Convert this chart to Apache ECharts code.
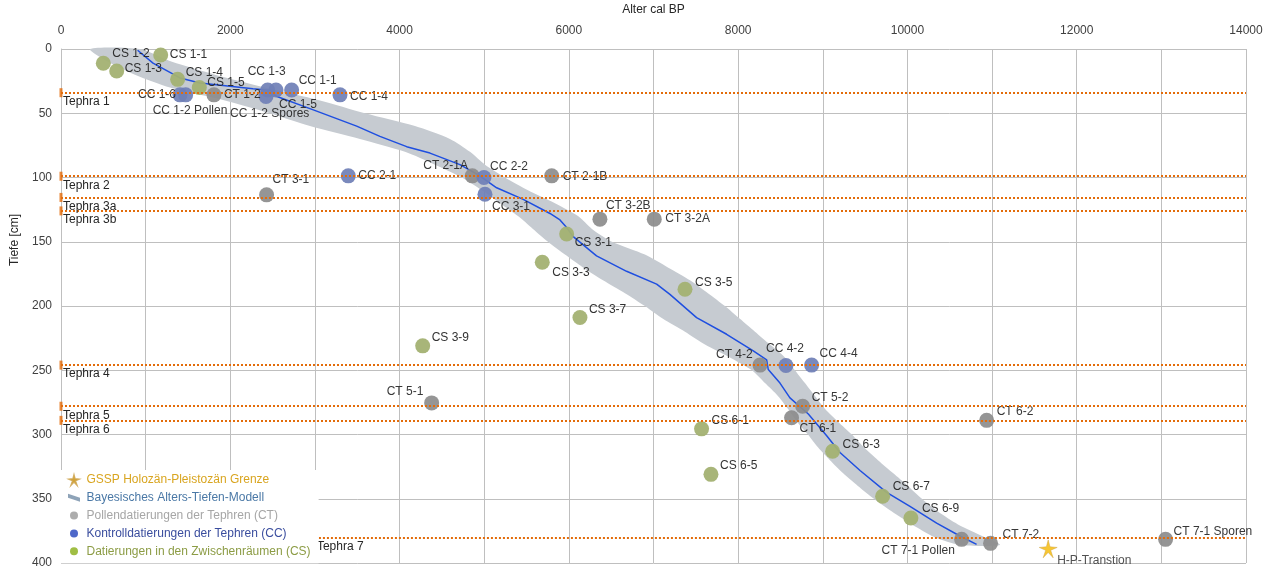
<!DOCTYPE html>
<html>
<head>
<meta charset="utf-8">
<script src="https://cdn.jsdelivr.net/npm/echarts@6/dist/echarts.min.js"></script>
<style>html,body{margin:0;padding:0;background:#fff}#c{width:1274px;height:569px}</style>
</head>
<body>
<div id="c"></div>
<script>
// ---------- data ----------
var xTicks = [0, 2000, 4000, 6000, 8000, 10000, 12000, 14000];
var yTicks = [0, 50, 100, 150, 200, 250, 300, 350, 400];

var tephraNames = ['Tephra 1', 'Tephra 2', 'Tephra 3a', 'Tephra 3b', 'Tephra 4', 'Tephra 5', 'Tephra 6', 'Tephra 7'];
var tephraDepth = [34, 99, 115.5, 126, 246, 278, 289, 380];
var tephraStartAge = [0, 0, 0, 0, 0, 0, 0, 3000];

var ctNames = ['CT 1-2', 'CT 3-1', 'CT 2-1A', 'CT 2-1B', 'CT 3-2B', 'CT 3-2A', 'CT 5-1', 'CT 4-2', 'CT 5-2', 'CT 6-1', 'CT 6-2', 'CT 7-1 Pollen', 'CT 7-2', 'CT 7-1 Sporen'];
var ctAge = [1807, 2429, 4859, 5797, 6367, 7009, 4379, 8258, 8762, 8631, 10936, 10640, 10982, 13050];
var ctDepth = [35.7, 113.5, 98.7, 98.7, 132.4, 132.4, 275.4, 246, 278, 287, 289, 381.6, 384.7, 381.6];

var ccNames = ['CC 1-6', 'CC 1-2 Pollen', 'CC 1-3', 'CC 1-2 Spores', 'CC 1-5', 'CC 1-1', 'CC 1-4', 'CC 2-1', 'CC 2-2', 'CC 3-1', 'CC 4-2', 'CC 4-4'];
var ccAge = [1406, 1473, 2442, 2540, 2422, 2725, 3296, 3394, 4997, 5009, 8565, 8868];
var ccDepth = [35.7, 35.7, 31.9, 31.9, 37, 31.9, 35.7, 98.7, 100, 113, 246.3, 246];

var csNames = ['CS 1-1', 'CS 1-2', 'CS 1-3', 'CS 1-4', 'CS 1-5', 'CS 3-1', 'CS 3-3', 'CS 3-5', 'CS 3-7', 'CS 3-9', 'CS 6-1', 'CS 6-3', 'CS 6-5', 'CS 6-7', 'CS 6-9'];
var csAge = [1178, 500, 658, 1378, 1634, 5974, 5686, 7372, 6131, 4273, 7568, 9116, 7679, 9707, 10041];
var csDepth = [4.7, 11.1, 17.1, 23.6, 30.0, 144, 166, 187, 209, 231, 295.6, 313, 331, 348, 365];

var gsspNames = ['H-P-Transtion'];
var gsspAge = [11663];
var gsspDepth = [389];

var modelAge = [905, 1087, 1406, 1642, 2268, 2434, 2552, 2981, 3493, 3768, 4084, 4359, 4713, 4930, 5147, 5461, 5777, 5895, 5974, 6052, 6327, 6682, 7037, 7194, 7509, 7864, 8179, 8337, 8356, 8494, 8612, 8829, 9046, 9203, 9440, 9754, 10030, 10345, 10620, 10817];
var modelDepth = [1, 11, 22.5, 26.4, 31, 32, 37, 47.4, 60, 68, 76, 81, 90, 98, 108, 117, 128, 133, 139, 146, 161, 173, 183, 191, 209, 222, 235, 242, 249.5, 260, 271.5, 284, 301, 314, 328, 345, 356, 369, 379, 385.5];

var bandDepth = [0, 10, 20, 30, 40, 50, 60, 70, 80, 90, 100, 110, 120, 130, 140, 150, 160, 170, 180, 190, 200, 210, 220, 230, 240, 250, 260, 270, 280, 290, 300, 310, 320, 330, 340, 350, 360, 370, 380, 386];
var bandMin = [343, 555, 874, 1288, 1937, 2469, 2941, 3532, 4064, 4418, 4737, 4973, 5186, 5399, 5576, 5753, 5954, 6167, 6403, 6663, 6899, 7112, 7372, 7608, 7903, 8163, 8317, 8470, 8588, 8695, 8825, 8943, 9085, 9238, 9415, 9604, 9817, 10053, 10325, 10620];
var bandMax = [933, 1311, 1819, 2410, 3060, 3591, 4182, 4595, 4832, 5009, 5245, 5517, 5836, 6108, 6273, 6509, 6899, 7170, 7431, 7643, 7844, 8021, 8199, 8376, 8553, 8671, 8789, 8907, 9025, 9179, 9344, 9486, 9652, 9829, 10006, 10171, 10360, 10597, 10916, 11093];

// ---------- layout (label offsets in px from point centre) ----------
var labelOffset = {
  'CS 1-2': [9, -10], 'CS 1-1': [9, 0], 'CS 1-3': [8, -2], 'CS 1-4': [8, -7], 'CS 1-5': [8, -5],
  'CC 1-6': [-42, 0], 'CC 1-2 Pollen': [-33, 16], 'CT 1-2': [10, 0], 'CC 1-3': [-20, -18],
  'CC 1-2 Spores': [-46, 24], 'CC 1-5': [13, 8], 'CC 1-1': [7, -9], 'CC 1-4': [10, 2],
  'CT 3-1': [6, -15], 'CC 2-1': [10, 0], 'CT 2-1A': [-49, -10], 'CC 2-2': [6, -11], 'CT 2-1B': [11, 1],
  'CC 3-1': [7, 12], 'CT 3-2B': [6, -13], 'CT 3-2A': [11, 0], 'CS 3-1': [8, 9], 'CS 3-3': [10, 10],
  'CS 3-5': [10, -7], 'CS 3-7': [9, -8], 'CS 3-9': [9, -8], 'CT 5-1': [-45, -11], 'CT 4-2': [-44, -10],
  'CC 4-2': [-20, -17], 'CC 4-4': [8, -11], 'CT 5-2': [9, -9], 'CT 6-1': [8, 11], 'CS 6-1': [10, -8],
  'CS 6-3': [10, -7], 'CS 6-5': [9, -9], 'CT 6-2': [10, -9], 'CS 6-7': [10, -9], 'CS 6-9': [11, -9],
  'CT 7-1 Pollen': [-80, 11], 'CT 7-2': [12, -9], 'H-P-Transtion': [9, 12], 'CT 7-1 Sporen': [8, -8]
};

var FONT = "'Liberation Sans', Arial, sans-serif";
var STAR = 'path://M50,0 L60,38 L100,42 L64,58 L78,100 L50,70 L22,100 L36,58 L0,42 L40,38 Z';

function pts(names, ages, depths) {
  return names.map(function (n, i) {
    var off = labelOffset[n] || [9, 0];
    return {
      name: n,
      value: [ages[i], depths[i]],
      label: {
        show: true, position: 'inside', align: 'left', verticalAlign: 'middle',
        offset: off, formatter: n, color: '#262626', fontSize: 12, fontFamily: FONT
      }
    };
  });
}

var modelData = modelAge.map(function (a, i) { return [a, modelDepth[i]]; });

var tephraLines = tephraNames.map(function (n, i) {
  return [
    { coord: [tephraStartAge[i], tephraDepth[i]], name: n },
    { coord: [14000, tephraDepth[i]] }
  ];
});
var tephraTicks = tephraNames.map(function (n, i) { return [tephraStartAge[i], tephraDepth[i]]; });

var chart = echarts.init(document.getElementById('c'), null, { renderer: 'canvas' });
chart.setOption({
  animation: false,
  backgroundColor: '#ffffff',
  textStyle: { fontFamily: FONT },
  grid: { left: 61, right: 28, top: 49, bottom: 6, containLabel: false, outerBoundsMode: 'none' },
  xAxis: {
    type: 'value', position: 'top', min: 0, max: 14000, interval: 2000,
    name: 'Alter cal BP', nameLocation: 'middle', nameGap: 33,
    nameTextStyle: { color: '#262626', fontSize: 12, fontFamily: FONT },
    axisLine: { show: false }, axisTick: { show: false },
    axisLabel: { color: '#404040', fontSize: 12, margin: 12, fontFamily: FONT, formatter: function (v) { return String(v); } },
    splitLine: { show: true, lineStyle: { color: '#bfbfbf', width: 1 } },
    minorTick: { show: false, splitNumber: 2 },
    minorSplitLine: { show: true, lineStyle: { color: '#bfbfbf', width: 1 } }
  },
  yAxis: {
    type: 'value', inverse: true, min: 0, max: 400, interval: 50,
    name: 'Tiefe [cm]', nameLocation: 'middle', nameGap: 38, nameRotate: 90,
    nameTextStyle: { color: '#262626', fontSize: 12, fontFamily: FONT, padding: [0, 0, 0, 132] },
    axisLine: { show: true, lineStyle: { color: '#bfbfbf', width: 1 } },
    axisTick: { show: false },
    axisLabel: { color: '#404040', fontSize: 12, margin: 9, fontFamily: FONT, formatter: function (v) { return String(v); } },
    splitLine: { show: true, lineStyle: { color: '#bfbfbf', width: 1 } }
  },
  legend: {
    orient: 'vertical', left: 61, top: 470, z: 20,
    backgroundColor: '#ffffff', padding: [4, 8, 6, 7],
    itemWidth: 15, itemHeight: 8, itemGap: 5.8,
    textStyle: { fontSize: 12, fontFamily: FONT },
    selectedMode: false,
    data: [
      { name: 'GSSP Holozän-Pleistozän Grenze', icon: STAR, itemStyle: { color: '#f2b300' }, textStyle: { color: '#d9a520' } },
      { name: 'Bayesisches Alters-Tiefen-Modell', icon: 'path://M0,0 L15,5 L15,10 L0,5 Z', itemStyle: { color: '#8ea3b8' }, textStyle: { color: '#4a78a6' } },
      { name: 'Pollendatierungen der Tephren (CT)', icon: 'circle', itemStyle: { color: '#a6a6a6' }, textStyle: { color: '#a6a6a6' } },
      { name: 'Kontrolldatierungen der Tephren (CC)', icon: 'circle', itemStyle: { color: '#3f5bc4' }, textStyle: { color: '#3a4d9e' } },
      { name: 'Datierungen in den Zwischenräumen (CS)', icon: 'circle', itemStyle: { color: '#9bbb3a' }, textStyle: { color: '#8c9c45' } }
    ]
  },
  series: [
    {
      name: 'Bayesisches Alters-Tiefen-Modell', type: 'custom', z: 1, silent: true,
      data: [[bandMin[0], bandDepth[0]]],
      encode: { x: 0, y: 1 },
      itemStyle: { color: '#c6cbd1' },
      renderItem: function (params, api) {
        if (params.dataIndex !== 0) return null;
        var p = [], i;
        for (i = 0; i < bandDepth.length; i++) p.push(api.coord([bandMax[i], bandDepth[i]]));
        for (i = bandDepth.length - 1; i >= 0; i--) p.push(api.coord([bandMin[i], bandDepth[i]]));
        return { type: 'polygon', shape: { points: p, smooth: 0.25 }, style: { fill: '#c6cbd1' } };
      }
    },
    {
      name: 'Modell-Median', type: 'line', z: 2, data: modelData, showSymbol: false, smooth: false,
      lineStyle: { color: '#1f4fe0', width: 1.5 }, silent: true
    },
    {
      name: 'Tephra', type: 'line', z: 3, data: [], silent: true,
      markLine: {
        silent: true, symbol: ['none', 'none'], animation: false,
        lineStyle: { color: '#e36c0a', width: 2, type: [2, 2] },
        label: { show: true, position: 'insideStartBottom', distance: [2, 3], formatter: '{b}', color: '#262626', fontSize: 12, fontFamily: FONT },
        data: tephraLines
      }
    },
    {
      name: 'Tephra-Marke', type: 'scatter', z: 3, silent: true, data: tephraTicks,
      symbol: 'rect', symbolSize: [3, 9], itemStyle: { color: '#e36c0a' }
    },
    {
      name: 'Pollendatierungen der Tephren (CT)', type: 'scatter', z: 4, symbolSize: 15,
      itemStyle: { color: '#8c8c8c', opacity: 0.92 }, data: pts(ctNames, ctAge, ctDepth)
    },
    {
      name: 'Kontrolldatierungen der Tephren (CC)', type: 'scatter', z: 4, symbolSize: 15,
      itemStyle: { color: '#6f7fb6', opacity: 0.92 }, data: pts(ccNames, ccAge, ccDepth)
    },
    {
      name: 'Datierungen in den Zwischenräumen (CS)', type: 'scatter', z: 4, symbolSize: 15,
      itemStyle: { color: '#a3b172', opacity: 0.95 }, data: pts(csNames, csAge, csDepth)
    },
    {
      name: 'GSSP Holozän-Pleistozän Grenze', type: 'scatter', z: 5, symbol: STAR, symbolSize: 18,
      itemStyle: { color: '#f5b800', borderColor: '#c89a3a', borderWidth: 0.5 }, data: pts(gsspNames, gsspAge, gsspDepth)
    }
  ]
});
</script>
</body>
</html>
